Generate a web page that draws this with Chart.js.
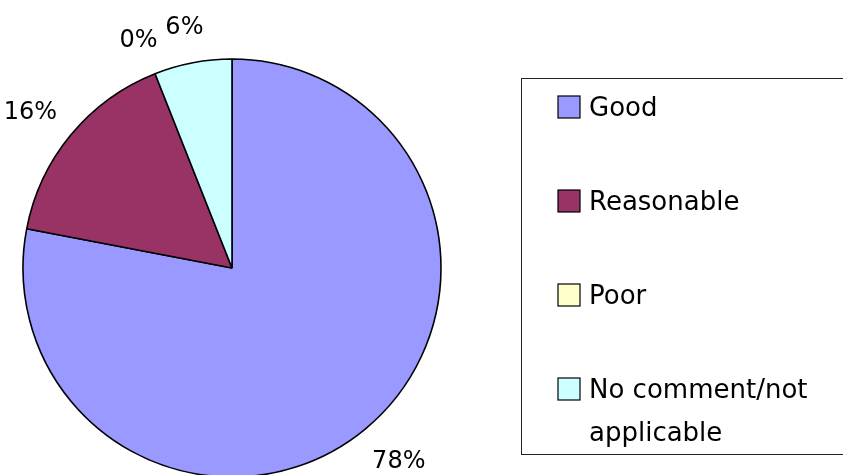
<!DOCTYPE html>
<html>
<head>
<meta charset="utf-8">
<script src="https://cdn.jsdelivr.net/npm/chart.js@4/dist/chart.umd.min.js"></script>
<style>
  html, body { margin: 0; padding: 0; background: #fff; }
  #wrap { width: 843px; height: 475px; }
</style>
</head>
<body>
<div id="wrap"><canvas id="pieChart" width="843" height="475"></canvas></div>
<script>
// data
const categories = ["Good", "Reasonable", "Poor", "No comment/not applicable"];
const shares = [78, 16, 0, 6];
const sliceColors = ["#9999FF", "#993366", "#FFFFCC", "#CCFFFF"];

const FONT = '"Comic Sans MS", "DejaVu Sans", sans-serif';

// percent labels just outside each slice
const pctLabels = {
    id: "pctLabels",
    afterDatasetsDraw(chart) {
        const ctx = chart.ctx;
        const meta = chart.getDatasetMeta(0);
        const vals = chart.data.datasets[0].data;
        const total = vals.reduce((a, b) => a + b, 0);
        ctx.save();
        ctx.font = "24px " + FONT;
        ctx.fillStyle = "#000";
        ctx.textAlign = "center";
        ctx.textBaseline = "middle";
        meta.data.forEach((arc, i) => {
            const p = arc.getProps(["x", "y", "startAngle", "endAngle", "outerRadius"], true);
            const mid = (p.startAngle + p.endAngle) / 2;
            const txt = Math.round(vals[i] / total * 100) + "%";
            const w = ctx.measureText(txt).width;
            const r = p.outerRadius + 26;
            const cx = p.x + Math.cos(mid) * r + Math.cos(mid) * w / 2;
            const cy = p.y + Math.sin(mid) * r + Math.sin(mid) * 13 + 3;
            ctx.fillText(txt, cx, cy);
        });
        ctx.restore();
    }
};

// boxed legend on the right
const boxLegend = {
    id: "boxLegend",
    afterDraw(chart) {
        const ctx = chart.ctx;
        const labels = chart.data.labels;
        const colors = chart.data.datasets[0].backgroundColor;
        ctx.save();
        ctx.strokeStyle = "#222";
        ctx.lineWidth = 1;
        ctx.strokeRect(521.5, 78.5, 340, 376);
        ctx.font = "26px " + FONT;
        ctx.textBaseline = "middle";
        ctx.textAlign = "left";
        labels.forEach((lab, i) => {
            const cy = 107 + i * 94;
            ctx.fillStyle = colors[i];
            ctx.fillRect(558, cy - 11, 22, 22);
            ctx.strokeStyle = "#000";
            ctx.lineWidth = 1.2;
            ctx.strokeRect(558, cy - 11, 22, 22);
            // simple word wrap
            const words = lab.split(" ");
            const lines = [];
            let cur = "";
            words.forEach(wd => {
                const test = cur ? cur + " " + wd : wd;
                if (cur && ctx.measureText(test).width > 235) {
                    lines.push(cur);
                    cur = wd;
                } else {
                    cur = test;
                }
            });
            lines.push(cur);
            ctx.fillStyle = "#000";
            lines.forEach((ln, j) => ctx.fillText(ln, 589, cy + 2 + j * 43));
        });
        ctx.restore();
    }
};

new Chart(document.getElementById("pieChart").getContext("2d"), {
    type: "pie",
    data: {
        labels: categories,
        datasets: [{
            data: shares,
            backgroundColor: sliceColors,
            borderColor: "#000",
            borderWidth: 1.6,
            hoverOffset: 0,
            offset: 0,
            radius: 209,
            clip: false
        }]
    },
    options: {
        responsive: false,
        animation: false,
        events: [],
        layout: { padding: { left: 0, right: 379, top: 61, bottom: 0 } },
        plugins: {
            legend: { display: false },
            tooltip: { enabled: false }
        }
    },
    plugins: [pctLabels, boxLegend]
});
</script>
</body>
</html>
